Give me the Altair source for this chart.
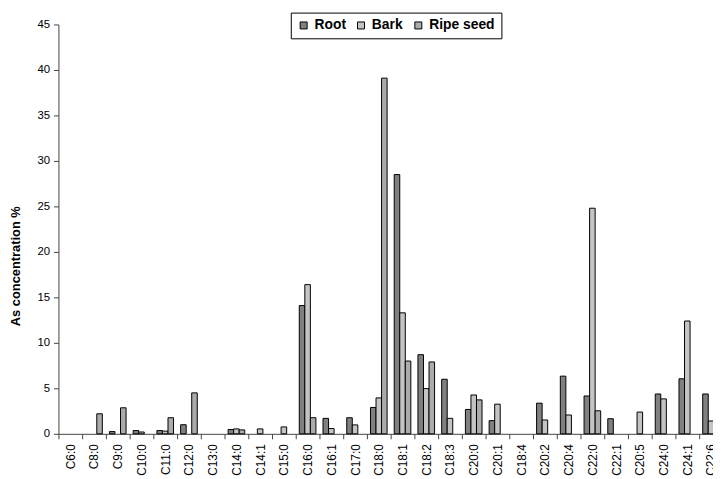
import altair as alt
import pandas as pd

categories = ["C6:0", "C8:0", "C9:0", "C10:0", "C11:0", "C12:0", "C13:0", "C14:0",
              "C14:1", "C15:0", "C16:0", "C16:1", "C17:0", "C18:0", "C18:1", "C18:2",
              "C18:3", "C20:0", "C20:1", "C18:4", "C20:2", "C20:4", "C22:0", "C22:1",
              "C20:5", "C24:0", "C24:1", "C22:6"]
series = ["Root", "Bark", "Ripe seed"]

root = [None, None, 0.25, 0.36, 0.36, 1.0, None, 0.47, None, None, 14.1, 1.7, 1.77, 2.9,
        28.5, 8.7, 6.0, 2.68, 1.45, None, 3.37, 6.34, 4.16, 1.66, None, 4.38, 6.05, 4.38]
bark = [None, None, None, 0.2, 0.3, None, None, 0.54, 0.54, 0.76, 16.4, 0.58, 0.98, 3.95,
        13.3, 4.97, 1.7, 4.27, 3.26, None, 1.52, 2.07, 24.8, None, 2.39, 3.84, 12.4, 1.41]
ripe_seed = [None, 2.2, 2.86, None, 1.77, 4.5, None, 0.43, None, None, 1.77, None, None, 39.1,
             8.0, 7.9, None, 3.73, None, None, None, None, 2.53, None, None, None, None, None]

colors = ["#808080", "#c4c4c4", "#ababab"]

rows = []
for name, vals in zip(series, [root, bark, ripe_seed]):
    for c, v in zip(categories, vals):
        if v is not None:
            rows.append({"cat": c, "series": name, "value": v})
df = pd.DataFrame(rows)

FONT = "Liberation Sans"

chart = alt.Chart(df).mark_bar(stroke="black", strokeWidth=1).encode(
    x=alt.X("cat:N", sort=categories,
            scale=alt.Scale(domain=categories, range=[0, 672], paddingInner=0, paddingOuter=0),
            axis=alt.Axis(title=None, labelAngle=-90, tickBand="extent", tickSize=5,
                          labelPadding=5, labelFontSize=12, labelColor="black",
                          domainColor="#444", tickColor="#444", labelFont=FONT)),
    xOffset=alt.XOffset("series:N", sort=series,
                        scale=alt.Scale(domain=series, paddingInner=0, paddingOuter=0.64)),
    y=alt.Y("value:Q", scale=alt.Scale(domain=[0, 45], nice=False),
            axis=alt.Axis(title="As concentration %", values=list(range(0, 50, 5)),
                          grid=False, tickSize=5, labelPadding=4, labelFontSize=11.5,
                          labelColor="black", labelFont=FONT,
                          domainColor="#444", tickColor="#444",
                          titleFont=FONT, titleFontSize=13, titleFontWeight="bold",
                          titleColor="black", titleX=-43, titleY=244,
                          titleBaseline="middle", titleAlign="center")),
    color=alt.Color("series:N", sort=series,
                    scale=alt.Scale(domain=series, range=colors),
                    legend=alt.Legend(title=None, orient="none", legendX=235, legendY=-12,
                                      direction="horizontal", columns=3,
                                      strokeColor="black", padding=6,
                                      symbolType="square", symbolSize=50,
                                      symbolStrokeColor="black", symbolStrokeWidth=1,
                                      labelFont=FONT, labelFontSize=14,
                                      labelFontWeight="bold", labelColor="black",
                                      labelOffset=4, columnPadding=8)),
).properties(
    width=662, height=414,
    autosize=alt.AutoSizeParams(type="none"),
    padding={"left": 51, "top": 14, "right": 0, "bottom": 40},
).configure_view(stroke=None)

chart.save("out.html", embed_options={"renderer": "svg", "actions": False})
